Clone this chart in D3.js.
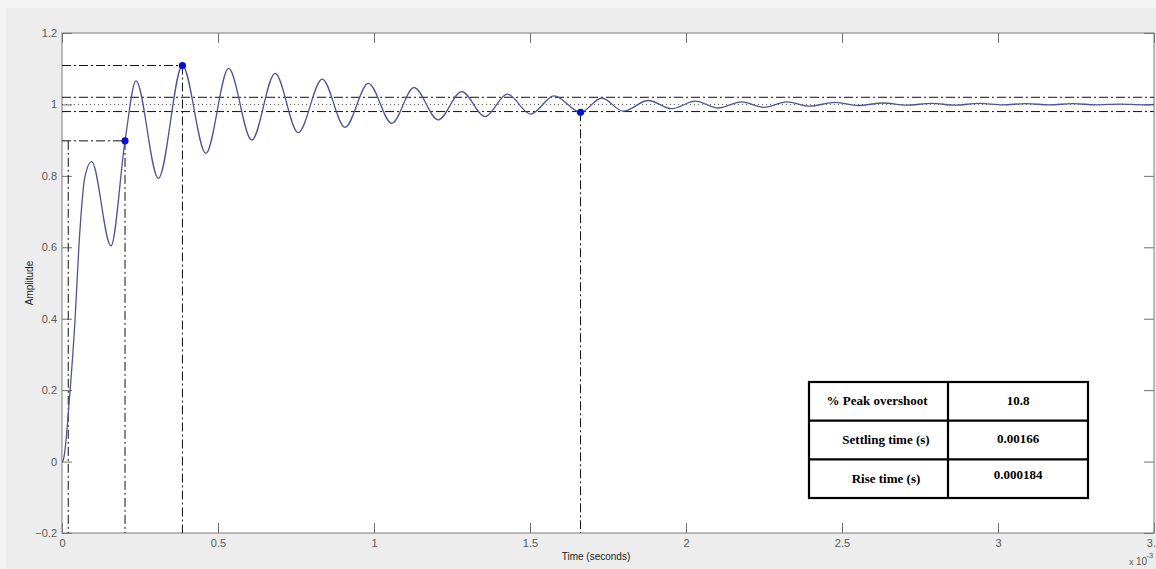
<!DOCTYPE html>
<html>
<head>
<meta charset="utf-8">
<script src="https://cdn.jsdelivr.net/npm/d3@7"></script>
<style>
  body { margin: 0; background: #f4f4f4; }
  svg { display: block; }
  .tick line { stroke: #6e6e6e; }
  .tick text { fill: #5a5a5a; font-family: "Liberation Sans", Arial, sans-serif; font-size: 11px; }
</style>
</head>
<body>
<svg id="chartsvg" width="1156" height="569"></svg>
<script>
// step response (time in ms)
const timeMs = [0, 0.004, 0.026, 0.042, 0.054, 0.074, 0.095, 0.157, 0.202, 0.237, 0.309, 0.386, 0.461, 0.534, 0.608,
  0.683, 0.757, 0.834, 0.907, 0.982, 1.057, 1.128, 1.206, 1.281, 1.356, 1.427, 1.502, 1.577, 1.662,
  1.730, 1.799, 1.879, 1.954, 2.029, 2.104, 2.178, 2.250, 2.323, 2.397, 2.478, 2.552, 2.632, 2.707,
  2.788, 2.862, 2.94, 3.015, 3.09, 3.165, 3.24, 3.315, 3.39, 3.465, 3.5];
const amplitude = [0, 0.004, 0.2, 0.4, 0.6, 0.8, 0.84, 0.604, 0.898, 1.066, 0.793, 1.109, 0.863, 1.101, 0.900,
  1.087, 0.921, 1.071, 0.936, 1.059, 0.947, 1.047, 0.957, 1.036, 0.966, 1.029, 0.973, 1.024, 0.978,
  1.018, 0.981, 1.011, 0.988, 1.009, 0.990, 1.007, 0.992, 1.007, 0.995, 1.006, 0.997, 1.004, 0.998,
  1.003, 0.998, 1.003, 0.999, 1.002, 0.999, 1.002, 0.999, 1.001, 0.999, 1.0];

// characteristic points: rise (90%), peak, settling
const markerT = [0.202, 0.386, 1.662];
const markerY = [0.898, 1.109, 0.978];
const riseStartT = 0.020;
const bandY = [0.98, 1.02];
const finalValue = 1;

const xTicks = [0, 0.5, 1, 1.5, 2, 2.5, 3, 3.5];
const yTicks = [-0.2, 0, 0.2, 0.4, 0.6, 0.8, 1, 1.2];

const tableLabels = ["% Peak overshoot", "Settling time (s)", "Rise time (s)"];
const tableValues = ["10.8", "0.00166", "0.000184"];

var vis = d3.select("#chartsvg");
const box = { left: 62, right: 1154, top: 33, bottom: 533 };
const dashDot = "9,3,2,3";

vis.append("rect").attr("x", 6).attr("y", 8).attr("width", 1150).attr("height", 561).attr("fill", "#ededed");

var x = d3.scaleLinear().domain([0, 3.5]).range([box.left, box.right]);
var y = d3.scaleLinear().domain([-0.2, 1.2]).range([box.bottom, box.top]);

vis.append("rect")
    .attr("x", box.left).attr("y", box.top)
    .attr("width", box.right - box.left).attr("height", box.bottom - box.top)
    .attr("fill", "#fff");

vis.append("defs").append("clipPath").attr("id", "clip")
    .append("rect")
    .attr("x", box.left).attr("y", box.top)
    .attr("width", box.right - box.left).attr("height", box.bottom - box.top);

// axes, ticks pointing inward like matlab
vis.append("g").attr("transform", `translate(0,${box.bottom})`)
    .call(d3.axisBottom(x).tickValues(xTicks).tickSize(-10).tickPadding(6).tickFormat(d3.format("")))
    .call(g => g.select(".domain").remove());
vis.append("g").attr("transform", `translate(0,${box.top})`)
    .call(d3.axisTop(x).tickValues(xTicks).tickSize(-10).tickFormat(""))
    .call(g => g.select(".domain").remove());
vis.append("g").attr("transform", `translate(${box.left},0)`)
    .call(d3.axisLeft(y).tickValues(yTicks).tickSize(-10).tickPadding(5).tickFormat(d3.format("")))
    .call(g => g.select(".domain").remove());
vis.append("g").attr("transform", `translate(${box.right},0)`)
    .call(d3.axisRight(y).tickValues(yTicks).tickSize(-10).tickFormat(""))
    .call(g => g.select(".domain").remove());

vis.append("rect")
    .attr("x", box.left).attr("y", box.top)
    .attr("width", box.right - box.left).attr("height", box.bottom - box.top)
    .attr("fill", "none").attr("stroke", "#7d7d7d");

var plot = vis.append("g").attr("clip-path", "url(#clip)");

// settling band and final value
bandY.forEach(b => {
    plot.append("line")
        .attr("x1", x(0)).attr("x2", x(3.5)).attr("y1", y(b)).attr("y2", y(b))
        .attr("stroke", "#111").attr("stroke-dasharray", dashDot);
});
plot.append("line")
    .attr("x1", x(0)).attr("x2", x(3.5)).attr("y1", y(finalValue)).attr("y2", y(finalValue))
    .attr("stroke", "#555").attr("stroke-dasharray", "1,3");

// rise time guides
plot.append("line")
    .attr("x1", x(0)).attr("x2", x(markerT[0])).attr("y1", y(markerY[0])).attr("y2", y(markerY[0]))
    .attr("stroke", "#111").attr("stroke-dasharray", dashDot);
plot.append("line")
    .attr("x1", x(riseStartT)).attr("x2", x(riseStartT)).attr("y1", y(markerY[0])).attr("y2", y(-0.2))
    .attr("stroke", "#111").attr("stroke-dasharray", dashDot);
// peak guide
plot.append("line")
    .attr("x1", x(0)).attr("x2", x(markerT[1])).attr("y1", y(markerY[1])).attr("y2", y(markerY[1]))
    .attr("stroke", "#111").attr("stroke-dasharray", dashDot);
// verticals from each marker
markerT.forEach((t, i) => {
    plot.append("line")
        .attr("x1", x(t)).attr("x2", x(t)).attr("y1", y(markerY[i])).attr("y2", y(-0.2))
        .attr("stroke", "#111").attr("stroke-dasharray", dashDot);
});

var line = d3.line()
    .x((d, i) => x(timeMs[i]))
    .y(d => y(d))
    .curve(d3.curveMonotoneX);

plot.append("path")
    .datum(amplitude)
    .attr("d", line)
    .attr("fill", "none")
    .attr("stroke", "#4f5592")
    .attr("stroke-width", 1.3);

plot.selectAll(".dot").data(markerT)
    .enter().append("circle").attr("class", "dot")
    .attr("cx", d => x(d))
    .attr("cy", (d, i) => y(markerY[i]))
    .attr("r", 3.6)
    .attr("fill", "#0010d0");

// axis titles
vis.append("text")
    .attr("transform", `translate(33,${(box.top + box.bottom) / 2}) rotate(-90)`)
    .attr("text-anchor", "middle")
    .attr("font-family", "Liberation Sans, Arial, sans-serif").attr("font-size", 10)
    .attr("fill", "#222")
    .text("Amplitude");
vis.append("text")
    .attr("x", 596).attr("y", 560)
    .attr("text-anchor", "middle")
    .attr("font-family", "Liberation Sans, Arial, sans-serif").attr("font-size", 10)
    .attr("fill", "#222")
    .text("Time (seconds)");
var expo = vis.append("text")
    .attr("x", 1129).attr("y", 565)
    .attr("font-family", "Liberation Sans, Arial, sans-serif").attr("font-size", 10)
    .attr("fill", "#5a5a5a");
expo.append("tspan").attr("font-size", 9).text("x ");
expo.append("tspan").text("10");
expo.append("tspan").attr("dy", -7).attr("dx", -1).attr("font-size", 8).text("-3");

// results table
const tab = { x: 809, y: 382, w: 279, h: 116, split: 948 };
var rowY = d3.scaleBand().domain(tableLabels).range([tab.y, tab.y + tab.h]);
var tg = vis.append("g");
tg.append("rect")
    .attr("x", tab.x).attr("y", tab.y).attr("width", tab.w).attr("height", tab.h)
    .attr("fill", "#fff").attr("stroke", "#000").attr("stroke-width", 2.2);
tg.append("line")
    .attr("x1", tab.split).attr("x2", tab.split).attr("y1", tab.y).attr("y2", tab.y + tab.h)
    .attr("stroke", "#000").attr("stroke-width", 2.2);
tableLabels.slice(1).forEach(l => {
    tg.append("line")
        .attr("x1", tab.x).attr("x2", tab.x + tab.w).attr("y1", rowY(l)).attr("y2", rowY(l))
        .attr("stroke", "#000").attr("stroke-width", 2.2);
});
const labelX = [877, 886, 886];
const valueDy = [0, -1, -4];
tableLabels.forEach((l, i) => {
    tg.append("text")
        .attr("x", labelX[i]).attr("y", rowY(l) + rowY.bandwidth() / 2 + 4)
        .attr("text-anchor", "middle")
        .attr("font-family", "Liberation Serif, Times New Roman, serif")
        .attr("font-weight", "bold").attr("font-size", 13)
        .text(l);
    tg.append("text")
        .attr("x", 1018).attr("y", rowY(l) + rowY.bandwidth() / 2 + 4 + valueDy[i])
        .attr("text-anchor", "middle")
        .attr("font-family", "Liberation Serif, Times New Roman, serif")
        .attr("font-weight", "bold").attr("font-size", 13)
        .text(tableValues[i]);
});
</script>
</body>
</html>
